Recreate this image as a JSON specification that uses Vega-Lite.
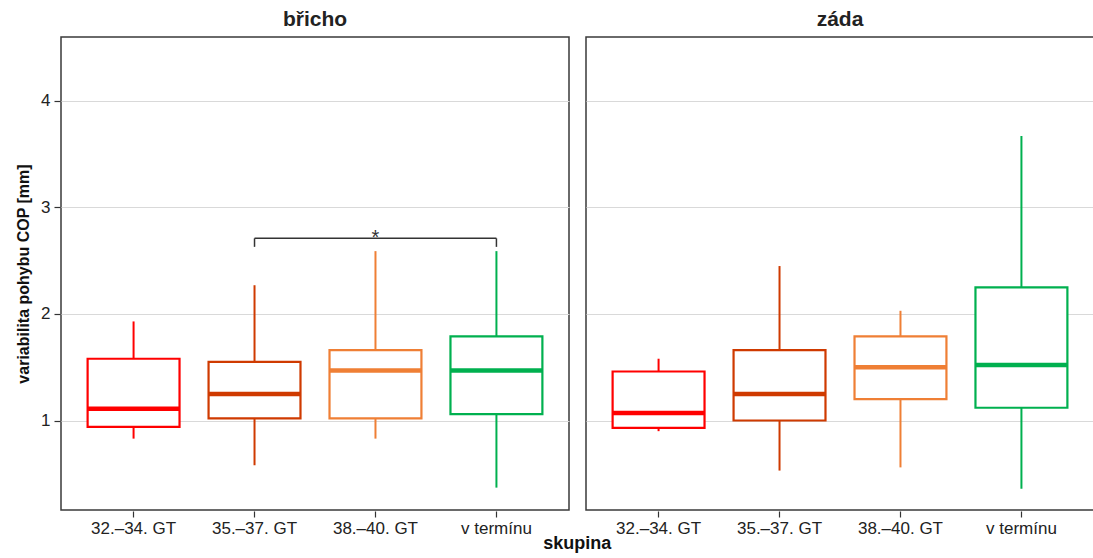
{
  "$schema": "https://vega.github.io/schema/vega-lite/v6.json",
  "padding": {"left": 15, "top": 9, "right": 0, "bottom": 0},
  "background": "white",
  "config": {
    "font": "Liberation Sans",
    "view": {"stroke": "#3a3a3a", "strokeWidth": 1.5},
    "axis": {"labelFont": "Liberation Sans", "titleFont": "Liberation Sans"}
  },
  "title": {"text": "skupina", "orient": "bottom", "anchor": "middle", "fontSize": 18, "fontWeight": "bold", "color": "#111", "offset": -1, "dx": 22},
  "data": {"values": [
    {"panel": "břicho", "kind": "box", "group": "32.–34. GT", "lower": 0.83, "q1": 0.94, "median": 1.11, "q3": 1.58, "upper": 1.93},
    {"panel": "břicho", "kind": "box", "group": "35.–37. GT", "lower": 0.58, "q1": 1.02, "median": 1.25, "q3": 1.55, "upper": 2.27},
    {"panel": "břicho", "kind": "box", "group": "38.–40. GT", "lower": 0.83, "q1": 1.02, "median": 1.47, "q3": 1.66, "upper": 2.59},
    {"panel": "břicho", "kind": "box", "group": "v termínu", "lower": 0.37, "q1": 1.06, "median": 1.47, "q3": 1.79, "upper": 2.59},
    {"panel": "záda", "kind": "box", "group": "32.–34. GT", "lower": 0.9, "q1": 0.93, "median": 1.07, "q3": 1.46, "upper": 1.58},
    {"panel": "záda", "kind": "box", "group": "35.–37. GT", "lower": 0.53, "q1": 1.0, "median": 1.25, "q3": 1.66, "upper": 2.45},
    {"panel": "záda", "kind": "box", "group": "38.–40. GT", "lower": 0.56, "q1": 1.2, "median": 1.5, "q3": 1.79, "upper": 2.03},
    {"panel": "záda", "kind": "box", "group": "v termínu", "lower": 0.36, "q1": 1.12, "median": 1.52, "q3": 2.25, "upper": 3.67},
    {"panel": "břicho", "kind": "brh", "group": "35.–37. GT", "group2": "v termínu", "lower": 2.71},
    {"panel": "břicho", "kind": "brv", "group": "35.–37. GT", "lower": 2.63, "upper": 2.71},
    {"panel": "břicho", "kind": "brv", "group": "v termínu", "lower": 2.63, "upper": 2.71},
    {"panel": "břicho", "kind": "star", "group": "38.–40. GT", "lower": 2.72, "label": "*"}
  ]},
  "facet": {
    "column": {
      "field": "panel", "type": "nominal", "sort": ["břicho", "záda"], "title": null,
      "header": {"labelFontSize": 21, "labelFontWeight": "bold", "labelColor": "#222", "labelPadding": 6, "labelFont": "Liberation Sans"}
    }
  },
  "spacing": 15,
  "spec": {
    "width": 508,
    "height": 473,
    "encoding": {
      "x": {
        "field": "group", "type": "nominal",
        "scale": {"domain": ["32.–34. GT", "35.–37. GT", "38.–40. GT", "v termínu"], "paddingInner": 0, "paddingOuter": 0.1},
        "axis": {"title": null, "labelAngle": 0, "labelFontSize": 17, "labelColor": "#222", "tickColor": "#333", "tickSize": 6, "tickWidth": 1.2, "domain": false, "grid": false, "labelPadding": 3}
      }
    },
    "layer": [
      {
        "transform": [{"filter": "datum.kind === 'box'"}],
        "mark": {"type": "rule", "strokeWidth": 2},
        "encoding": {
          "y": {
            "field": "lower", "type": "quantitative",
            "scale": {"domain": [0.16, 4.6], "nice": false, "zero": false},
            "axis": {"title": "variabilita pohybu COP [mm]", "titleFontSize": 16, "titleFontWeight": "bold", "titleColor": "#111", "titlePadding": 9, "values": [1, 2, 3, 4], "format": "d", "labelFontSize": 17, "labelColor": "#222", "tickColor": "#333", "tickSize": 6, "tickWidth": 1.2, "domain": false, "gridColor": "#d9d9d9", "gridWidth": 1, "labelPadding": 4}
          },
          "y2": {"field": "upper"},
          "color": {
            "field": "group", "type": "nominal",
            "scale": {"domain": ["32.–34. GT", "35.–37. GT", "38.–40. GT", "v termínu"], "range": ["#ff0000", "#cf3a00", "#ef7f35", "#00b04f"]},
            "legend": null
          }
        }
      },
      {
        "transform": [{"filter": "datum.kind === 'box'"}],
        "mark": {"type": "bar", "fill": "white", "strokeWidth": 2.2, "width": {"band": 0.76}},
        "encoding": {
          "y": {"field": "q1", "type": "quantitative"},
          "y2": {"field": "q3"},
          "stroke": {"field": "group", "type": "nominal", "scale": {"domain": ["32.–34. GT", "35.–37. GT", "38.–40. GT", "v termínu"], "range": ["#ff0000", "#cf3a00", "#ef7f35", "#00b04f"]}, "legend": null}
        }
      },
      {
        "transform": [{"filter": "datum.kind === 'box'"}],
        "mark": {"type": "tick", "thickness": 4.5, "size": 92, "opacity": 1},
        "encoding": {
          "y": {"field": "median", "type": "quantitative"},
          "color": {"field": "group", "type": "nominal", "legend": null}
        }
      },
      {
        "transform": [{"filter": "datum.kind === 'brh'"}],
        "mark": {"type": "rule", "strokeWidth": 1.5, "color": "#333"},
        "encoding": {
          "x2": {"field": "group2"},
          "y": {"field": "lower", "type": "quantitative"}
        }
      },
      {
        "transform": [{"filter": "datum.kind === 'brv'"}],
        "mark": {"type": "rule", "strokeWidth": 1.5, "color": "#333"},
        "encoding": {
          "y": {"field": "lower", "type": "quantitative"},
          "y2": {"field": "upper"}
        }
      },
      {
        "transform": [{"filter": "datum.kind === 'star'"}],
        "mark": {"type": "text", "fontSize": 20, "color": "#333", "baseline": "bottom", "dy": 11},
        "encoding": {
          "y": {"field": "lower", "type": "quantitative"},
          "text": {"field": "label"}
        }
      }
    ]
  }
}
